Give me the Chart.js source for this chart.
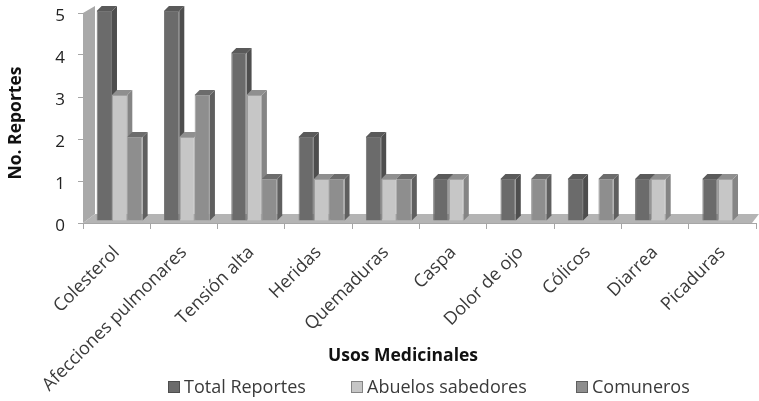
<!DOCTYPE html>
<html lang="es">
<head>
<meta charset="utf-8">
<title>Usos Medicinales</title>
<script src="https://cdn.jsdelivr.net/npm/chart.js@4/dist/chart.umd.min.js"></script>
<style>
    html, body { margin: 0; padding: 0; background: #fff; }
    canvas { display: block; }
</style>
</head>
<body>
<canvas id="usosChart" width="759" height="401"></canvas>
<script>
// Chart data
var categories = ['Colesterol', 'Afecciones pulmonares', 'Tensión alta', 'Heridas', 'Quemaduras',
    'Caspa', 'Dolor de ojo', 'Cólicos', 'Diarrea', 'Picaduras'];
var totalReportes = [5, 5, 4, 2, 2, 1, 1, 1, 1, 1];
var abuelosSabedores = [3, 2, 3, 1, 1, 1, 0, 0, 1, 1];
var comuneros = [2, 3, 1, 1, 1, 0, 1, 1, 0, 0];
var yTicks = [0, 1, 2, 3, 4, 5];

var FONT = '"Open Sans", sans-serif';
var DEPTH_X = 5, DEPTH_Y = 5;
var LEGEND_X = [168, 351, 576];
var LEGEND_Y = 388;

function poly(ctx, color, pts) {
    ctx.fillStyle = color;
    ctx.beginPath();
    ctx.moveTo(pts[0][0], pts[0][1]);
    for (var i = 1; i < pts.length; i++) {
        ctx.lineTo(pts[i][0], pts[i][1]);
    }
    ctx.closePath();
    ctx.fill();
}

// Wall, floor and bars with their depth faces, first series first
var box3d = {
    id: 'box3d',
    beforeDatasetsDraw: function (chart) {
        var ctx = chart.ctx, a = chart.chartArea;
        poly(ctx, '#a9a9a9', [[a.left, a.top], [a.left + 12, a.top - 7], [a.left + 12, a.bottom - 9], [a.left, a.bottom]]);
        poly(ctx, '#b4b4b4', [[a.left, a.bottom], [a.left + 12, a.bottom - 9], [a.right + 3, a.bottom - 9], [a.right - 4, a.bottom]]);
    },
    beforeDatasetDraw: function () {
        return false;
    },
    afterDatasetsDraw: function (chart) {
        var ctx = chart.ctx;
        ctx.save();
        ctx.translate(3, -2);
        chart.data.datasets.forEach(function (ds, index) {
            chart.getDatasetMeta(index).data.forEach(function (bar, i) {
                if (!ds.data[i]) return;
                var half = bar.width / 2;
                var l = bar.x - half, r = bar.x + half;
                poly(ctx, ds.sideColor, [[r, bar.y], [r + DEPTH_X, bar.y - DEPTH_Y], [r + DEPTH_X, bar.base - DEPTH_Y], [r, bar.base]]);
                poly(ctx, ds.topColor, [[l, bar.y], [l + DEPTH_X, bar.y - DEPTH_Y], [r + DEPTH_X, bar.y - DEPTH_Y], [r, bar.y]]);
                bar.draw(ctx);
            });
        });
        ctx.restore();
    }
};

// Axis titles and legend row
var captions = {
    id: 'captions',
    afterDraw: function (chart) {
        var ctx = chart.ctx;
        ctx.save();
        ctx.textBaseline = 'middle';
        ctx.textAlign = 'center';
        ctx.fillStyle = '#111';
        ctx.font = 'bold 17.5px ' + FONT;
        ctx.fillText('Usos Medicinales', 403, 356);
        ctx.save();
        ctx.translate(16, 123);
        ctx.rotate(-Math.PI / 2);
        ctx.fillText('No. Reportes', 0, 0);
        ctx.restore();
        ctx.textAlign = 'left';
        ctx.font = '18px ' + FONT;
        chart.data.datasets.forEach(function (ds, i) {
            ctx.fillStyle = ds.backgroundColor;
            ctx.fillRect(LEGEND_X[i], LEGEND_Y - 7, 12, 12);
            ctx.strokeStyle = ds.sideColor;
            ctx.strokeRect(LEGEND_X[i] + 0.5, LEGEND_Y - 6.5, 11, 11);
            ctx.fillStyle = '#3a3a3a';
            ctx.fillText(ds.label, LEGEND_X[i] + 16, LEGEND_Y);
        });
        ctx.restore();
    }
};

var ctx = document.getElementById('usosChart').getContext('2d');
var myChart = new Chart(ctx, {
    type: 'bar',
    plugins: [box3d, captions],
    data: {
        labels: categories,
        datasets: [
            { label: 'Total Reportes', data: totalReportes,
              backgroundColor: '#6b6b6b', borderColor: '#757575', borderWidth: 1,
              sideColor: '#4e4e4e', topColor: '#5a5a5a' },
            { label: 'Abuelos sabedores', data: abuelosSabedores,
              backgroundColor: '#c6c6c6', borderColor: '#a2a2a2', borderWidth: 1,
              sideColor: '#858585', topColor: '#8f8f8f' },
            { label: 'Comuneros', data: comuneros,
              backgroundColor: '#8e8e8e', borderColor: '#9a9a9a', borderWidth: 1,
              sideColor: '#5f5f5f', topColor: '#6c6c6c' }
        ]
    },
    options: {
        responsive: false,
        animation: false,
        layout: { padding: { top: 13, right: 3, left: 0, bottom: 0 } },
        datasets: { bar: { barPercentage: 1, categoryPercentage: 0.683 } },
        scales: {
            x: {
                afterFit: function (scale) {
                    scale.height = 178;
                    scale.paddingLeft = 0;
                    scale.paddingRight = 0;
                },
                border: { color: '#a6a6a6' },
                grid: { drawOnChartArea: false, color: '#a6a6a6', tickLength: 6 },
                ticks: {
                    minRotation: 45, maxRotation: 45, autoSkip: false, padding: 13,
                    color: '#3a3a3a', font: { family: FONT, size: 18 }
                }
            },
            y: {
                min: 0, max: 5,
                afterFit: function (scale) {
                    scale.width = 83;
                    scale.paddingTop = 0;
                    scale.paddingBottom = 0;
                },
                afterBuildTicks: function (scale) {
                    scale.ticks = yTicks.map(function (v) { return { value: v }; });
                },
                border: { display: false },
                grid: { drawOnChartArea: false, color: '#a6a6a6', tickLength: 5 },
                ticks: {
                    padding: 13, labelOffset: 3, color: '#222',
                    font: { family: FONT, size: 17 }
                }
            }
        },
        plugins: {
            tooltip: { enabled: false },
            title: { display: false },
            legend: { display: false }
        }
    }
});
</script>
</body>
</html>
